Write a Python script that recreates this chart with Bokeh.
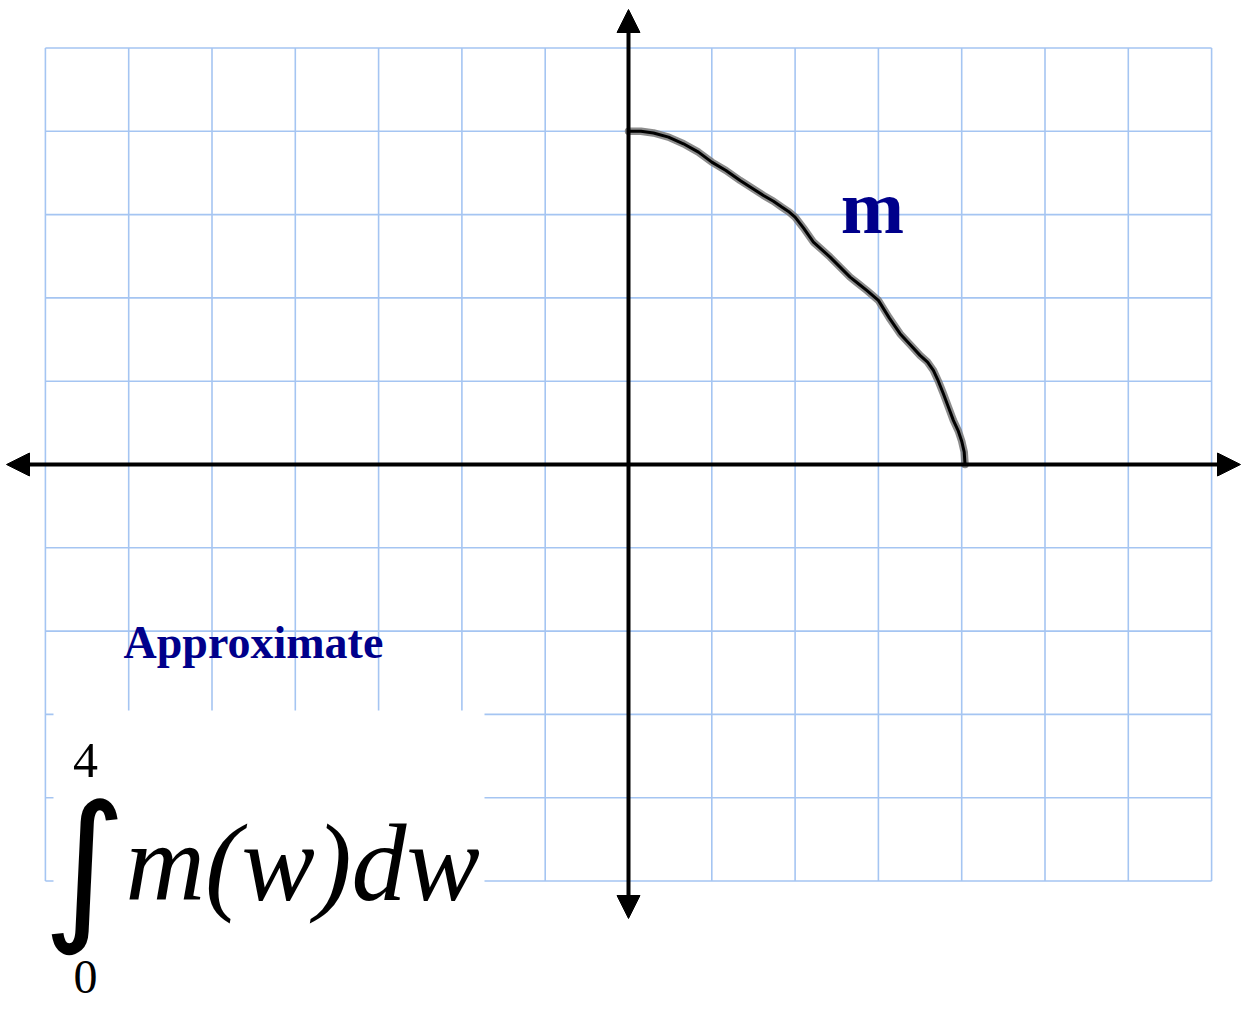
from bokeh.plotting import figure
from bokeh.models import Arrow, NormalHead, Range1d, ColumnDataSource
from bokeh.core.properties import value
from bokeh.embed import file_html
from bokeh.resources import INLINE

# ---- data ----
grid_x = list(range(-7, 8))
grid_y = list(range(-5, 6))
curve_w = [0.0, 0.15, 0.30, 0.48, 0.66, 0.84, 1.00, 1.17, 1.34, 1.48, 1.62, 1.74, 1.84, 1.93, 2.00,
           2.10, 2.22, 2.32, 2.42, 2.54, 2.66, 2.76, 2.86, 2.93, 3.00, 3.13, 3.26, 3.38, 3.50,
           3.59, 3.66, 3.72, 3.78, 3.84, 3.90, 3.96, 4.00, 4.03, 4.04]
curve_m = [4.00, 4.00, 3.98, 3.93, 3.85, 3.75, 3.63, 3.53, 3.41, 3.32, 3.23, 3.16, 3.09, 3.03, 2.97,
           2.84, 2.67, 2.58, 2.49, 2.37, 2.25, 2.17, 2.09, 2.03, 1.97, 1.76, 1.57, 1.44, 1.31,
           1.23, 1.13, 1.00, 0.85, 0.69, 0.53, 0.40, 0.28, 0.15, 0.0]
curve_label = "m"
title_text = "Approximate"
integrand_text = "m(w)dw"
upper_limit = "4"
lower_limit = "0"

S = 83.3
W, H = 1241, 1010
ox, oy = 628, 464


def dx(px):
    return (px - ox) / S


def dy(py, fs=0.0):
    # baseline pixel -> data y (compensating the renderer's baseline offset)
    return (oy - py) / S + 0.37 * fs / S


p = figure(width=W, height=H, output_backend="svg", toolbar_location=None,
           x_range=Range1d(-ox / S, (W - ox) / S), y_range=Range1d(-(H - oy) / S, oy / S),
           min_border=0, outline_line_color=None, background_fill_color="white")
p.axis.visible = False
p.grid.visible = False

gc = "#a5c5f2"
p.segment(x0=grid_x, y0=[grid_y[0]] * len(grid_x), x1=grid_x, y1=[grid_y[-1]] * len(grid_x),
          line_color=gc, line_width=1.6)
p.segment(x0=[grid_x[0]] * len(grid_y), y0=grid_y, x1=[grid_x[-1]] * len(grid_y), y1=grid_y,
          line_color=gc, line_width=1.6)

# white box behind the integral
p.quad(left=dx(53), right=dx(484), top=(oy - 710) / S, bottom=-(H - oy) / S - 0.1,
       fill_color="white", line_color=None)

# axes with arrows
for (xs, ys, xe, ye) in [(dx(6), 0, dx(1240), 0), (0, (oy - 918) / S, 0, (oy - 9) / S)]:
    p.add_layout(Arrow(x_start=xs, y_start=ys, x_end=xe, y_end=ye, line_width=4, line_color="black",
                       start=NormalHead(size=23, fill_color="black", line_color="black", line_width=1),
                       end=NormalHead(size=23, fill_color="black", line_color="black", line_width=1)))

# curve
src = ColumnDataSource(dict(w=curve_w, m=curve_m))
p.line("w", "m", source=src, line_color="#777777", line_width=7.5, line_alpha=0.85,
       line_join="round", line_cap="round")
p.line("w", "m", source=src, line_color="black", line_width=3, line_join="round", line_cap="round")

navy = "#00008b"
p.text(x=[dx(872)], y=[dy(235, 76)], text=[curve_label], text_font=value("Liberation Serif"),
       text_font_style="bold", text_font_size="76px", text_color=navy,
       text_align="center", text_baseline="alphabetic")
p.text(x=[dx(123)], y=[dy(659, 46)], text=[title_text], text_font=value("Liberation Serif"),
       text_font_style="bold", text_font_size="46px", text_color=navy,
       text_align="left", text_baseline="alphabetic")

p.text(x=[dx(85)], y=[dy(778, 50)], text=[upper_limit], text_font=value("Liberation Serif"),
       text_font_size="50px", text_color="black", text_align="center", text_baseline="alphabetic")
p.text(x=[dx(85)], y=[dy(994, 48)], text=[lower_limit], text_font=value("Liberation Serif"),
       text_font_size="48px", text_color="black", text_align="center", text_baseline="alphabetic")
p.text(x=[dx(84)], y=[(oy - 864) / S], text=["\u222b"], text_font=value("DejaVu Sans"),
       text_font_size="162px", text_color="black", text_align="center", text_baseline="middle")
p.text(x=[dx(125)], y=[dy(903, 110)], text=[integrand_text], text_font=value("Liberation Serif"),
       text_font_style="italic", text_font_size="110px", text_color="black",
       text_align="left", text_baseline="alphabetic")

open("out.html", "w").write(file_html(p, INLINE))
